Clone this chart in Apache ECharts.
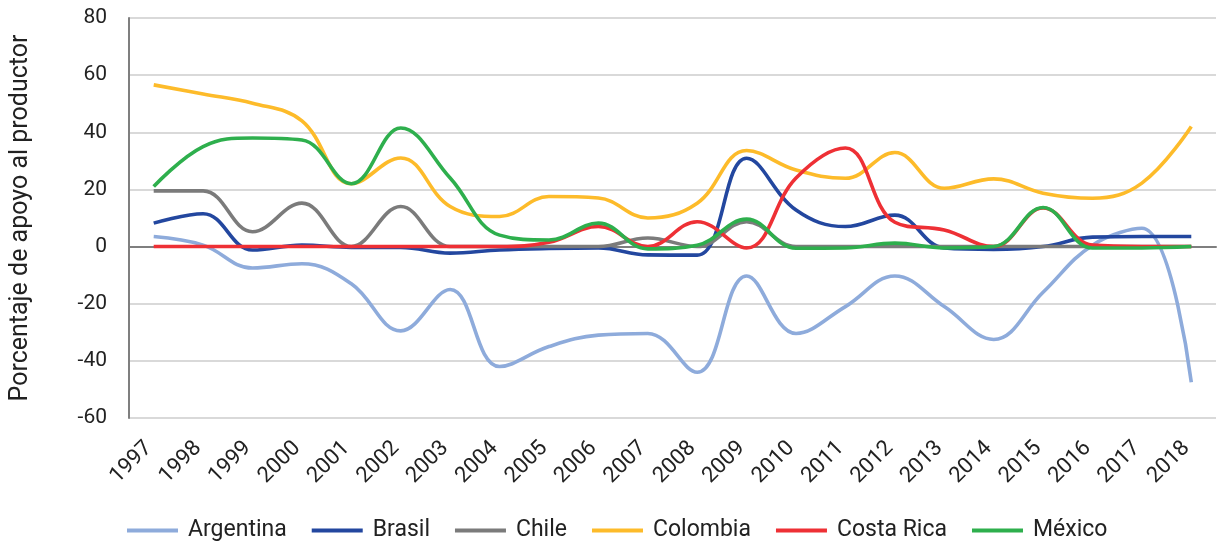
<!DOCTYPE html>
<html>
<head>
<meta charset="utf-8">
<script src="https://cdn.jsdelivr.net/npm/echarts@6/dist/echarts.min.js"></script>
<style>
  html, body { margin: 0; padding: 0; background: #fff; }
  #chart { width: 1221px; height: 542px; }
</style>
</head>
<body>
<div id="chart"></div>
<script>
// Años
const years = ['1997','1998','1999','2000','2001','2002','2003','2004','2005','2006','2007',
               '2008','2009','2010','2011','2012','2013','2014','2015','2016','2017','2018'];

// Porcentaje de apoyo al productor por país
const argentina = [3.5, 0.5, -7.5, -6, -13, -29.5, -15, -42, -35, -31, -30.4,
                   -44, -10.3, -30.4, -21, -10.3, -21, -32.5, -16, 0.5, 6.4, -47.5];
const brasil    = [8.2, 11.5, -1.2, 0.5, -0.3, -0.3, -2.3, -1.2, -0.7, -0.5, -2.9,
                   -3, 30.9, 12.8, 7, 11, -0.5, -1, 0, 3.3, 3.5, 3.5];
const chile     = [19.5, 19.5, 5.2, 15.2, 0, 14, 0, 0, 0, 0, 3,
                   0, 8.7, 0, 0, 0, 0, 0, 0, 0, 0, 0];
const colombia  = [56.6, 53.4, 50.2, 44, 22, 31, 14, 10.5, 17.5, 17, 10,
                   15.2, 33.6, 26.8, 23.9, 32.9, 20.4, 23.7, 18.7, 16.9, 22.2, 42];
const costaRica = [0, 0, 0, 0, 0, 0, 0, 0, 1.5, 7, 0,
                   8.7, -0.5, 24, 34.5, 8.5, 5.8, 0, 13.5, 0.5, 0, 0];
const mexico    = [21, 35, 38, 37.3, 22, 41.5, 24, 4, 2.3, 8.2, -0.8,
                   0.5, 9.6, -0.6, -0.5, 1.2, -0.5, 0, 13.7, -0.5, -0.5, 0];

// Ticks del eje vertical
const yMin = -60, yMax = 80, yStep = 20;

const seriesDefs = [
  { name: 'Argentina',  data: argentina, color: '#8eabdb' },
  { name: 'Brasil',     data: brasil,    color: '#23479f' },
  { name: 'Chile',      data: chile,     color: '#7b7b7b' },
  { name: 'Colombia',   data: colombia,  color: '#fdbb2a' },
  { name: 'Costa Rica', data: costaRica, color: '#ee3035' },
  { name: 'México',     data: mexico,    color: '#2eaf4d' }
];

const font = 'Roboto, "Noto Sans", sans-serif';
const chart = echarts.init(document.getElementById('chart'), null, { renderer: 'canvas' });

chart.setOption({
  animation: false,
  backgroundColor: '#ffffff',
  textStyle: { fontFamily: font },
  grid: { left: 124, right: 5, top: 18, bottom: 124, containLabel: false },
  legend: {
    top: 514,
    left: 122,
    padding: [5, 5, 5, 5],
    icon: 'rect',
    itemWidth: 51,
    itemHeight: 4,
    itemGap: 25,
    textStyle: { fontFamily: font, fontSize: 23, color: '#222', padding: [0, 0, 0, 5] },
    data: seriesDefs.map(s => s.name)
  },
  xAxis: [
    {
      type: 'category',
      data: years,
      boundaryGap: true,
      position: 'bottom',
      offset: 10,
      axisLine: { show: false, onZero: false },
      axisTick: { show: false },
      axisLabel: {
        rotate: 45,
        margin: 12,
        padding: [0, 7, 0, 0],
        fontSize: 22,
        color: '#222',
        fontFamily: font,
        interval: 0
      },
      splitLine: { show: false }
    },
    {
      // línea de referencia en cero
      type: 'category',
      data: years,
      boundaryGap: true,
      axisLine: { show: true, onZero: true, lineStyle: { color: '#7f7f7f', width: 2 } },
      axisTick: { show: false },
      axisLabel: { show: false },
      splitLine: { show: false }
    }
  ],
  yAxis: {
    type: 'value',
    min: yMin,
    max: yMax,
    interval: yStep,
    name: 'Porcentaje de apoyo al productor',
    nameLocation: 'middle',
    nameGap: 96,
    nameRotate: 90,
    nameTextStyle: { fontSize: 25, color: '#222', fontFamily: font },
    axisLine: { show: true, onZero: false, lineStyle: { color: '#7f7f7f', width: 2 } },
    axisTick: { show: false },
    axisLabel: { fontSize: 21, color: '#222', margin: 22, fontFamily: font },
    splitLine: { show: true, lineStyle: { color: '#d9d9d9', width: 2 } }
  },
  series: seriesDefs.map(s => ({
    name: s.name,
    type: 'line',
    xAxisIndex: 0,
    data: s.data,
    smooth: 0.4,
    showSymbol: false,
    symbol: 'none',
    color: s.color,
    lineStyle: { width: 3.6, color: s.color }
  }))
});
</script>
</body>
</html>
